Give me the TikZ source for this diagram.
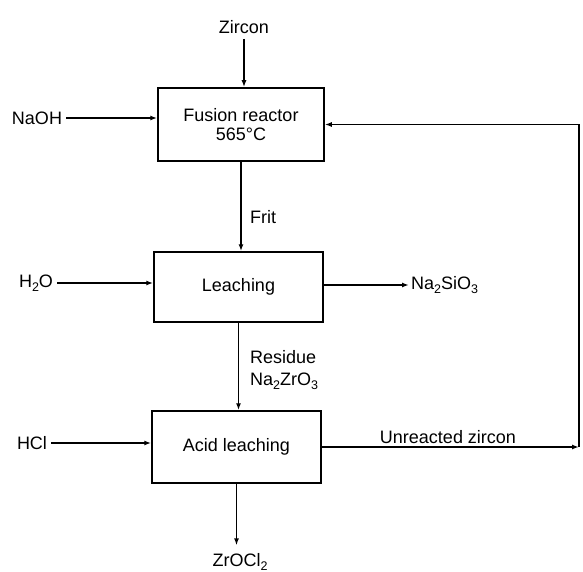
\documentclass[tikz,border=0pt]{standalone}
\usepackage{fontspec}
\setmainfont{Liberation Sans}
\usetikzlibrary{arrows.meta,calc}
\newcommand{\chsub}[1]{\raisebox{-0.4ex}{\fontsize{12.5}{12.5}\selectfont #1}}
\begin{document}
\begin{tikzpicture}[x=1pt,y=-1pt,
  font=\fontsize{18}{19}\selectfont,
  unit/.style={draw,line width=1.5pt,inner sep=0pt,align=center},
  lbl/.style={inner sep=2pt},
  arr/.style={line width=1.4pt,-{Latex[length=7pt,width=5pt]}},
  ln/.style={line width=1.4pt}]
\useasboundingbox (0,0) rectangle (583,572);
% units
\node[unit,minimum width=166pt,minimum height=73pt] (fus) at (241,124.5) {Fusion reactor\\565°C};
\node[unit,minimum width=169pt,minimum height=70pt] (leach) at (238.5,287) {Leaching};
\node[unit,minimum width=169pt,minimum height=72pt] (acid) at (236.5,447) {Acid leaching};
% stream labels
\node[lbl] (zir) at (244,27) {Zircon};
\node[lbl] (naoh) at (37,118) {NaOH};
\node[lbl] (h2o) at (36,283) {H\chsub{2}O};
\node[lbl,anchor=west] (nasio) at (409,285) {Na\chsub{2}SiO\chsub{3}};
\node[lbl] (hcl) at (32,443) {HCl};
\node[lbl,anchor=west] (frit) at (248,217) {Frit};
\node[lbl,anchor=west] (res) at (248,357) {Residue};
\node[lbl,anchor=west] (nazr) at (248,381) {Na\chsub{2}ZrO\chsub{3}};
\node[lbl] (zro) at (240,562) {ZrOCl\chsub{2}};
\node[lbl] (unr) at (448,437) {Unreacted zircon};
\coordinate (c1) at (579,447);
% connectors
\draw[arr,shorten <=3pt] (zir.south) -- (zir.south |- fus.north);
\draw[arr,shorten <=2pt] (naoh.east) -- (naoh.east -| fus.west);
\draw[arr] (fus.south) -- (fus.south |- leach.north);
\draw[arr,shorten <=2pt] (h2o.east) -- (h2o.east -| leach.west);
\draw[arr] (leach.east |- nasio.west) -- (nasio.west);
\draw[arr] (leach.south) -- (leach.south |- acid.north);
\draw[arr,shorten <=2pt] (hcl.east) -- (hcl.east -| acid.west);
\draw[arr,shorten >=6pt] (acid.south) -- (acid.south |- zro.north);
\draw[arr] (acid.east) -- (c1);
\draw[arr] (c1) -- (c1 |- fus.east) -- (fus.east);
\end{tikzpicture}
\end{document}
